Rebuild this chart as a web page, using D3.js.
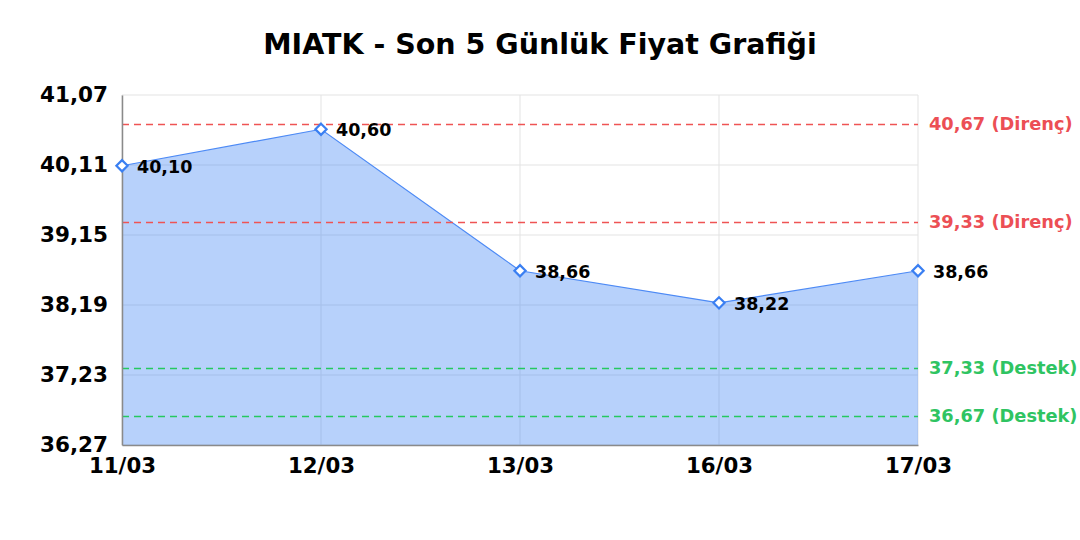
<!DOCTYPE html>
<html lang="tr">
<head>
    <meta charset="utf-8" />
    <script src="https://d3js.org/d3.v7.min.js"></script>
    <title>MIATK</title>
    <style>
        body { margin: 0; background: #fff; }
        * { font-family: 'DejaVu Sans', sans-serif; }
    </style>
</head>
<body>
    <div id="chart"></div>
    <script>
        // veriler
        var dates = ["11/03", "12/03", "13/03", "16/03", "17/03"];
        var prices = [40.10, 40.60, 38.66, 38.22, 38.66];
        var yTicks = [36.27, 37.23, 38.19, 39.15, 40.11, 41.07];
        var levelValues = [40.67, 39.33, 37.33, 36.67];
        var levelNames = ["Direnç", "Direnç", "Destek", "Destek"];

        var width = 1080, height = 540;
        var margin = { top: 95, right: 162, bottom: 95, left: 122 };

        var svg = d3.select("#chart")
            .append("svg")
            .attr("width", width)
            .attr("height", height);

        var x = d3.scalePoint()
            .domain(dates)
            .range([margin.left, width - margin.right]);

        var y = d3.scaleLinear()
            .domain([yTicks[0], yTicks[yTicks.length - 1]])
            .range([height - margin.bottom, margin.top]);

        var fmt = function (v) { return v.toFixed(2).replace(".", ","); };

        // grid
        svg.append("g")
            .selectAll("line.h")
            .data(yTicks)
            .enter()
            .append("line")
            .attr("x1", margin.left)
            .attr("x2", width - margin.right)
            .attr("y1", function (d) { return y(d); })
            .attr("y2", function (d) { return y(d); })
            .attr("stroke", "#e3e3e3")
            .attr("stroke-width", 1);

        svg.append("g")
            .selectAll("line.v")
            .data(dates)
            .enter()
            .append("line")
            .attr("x1", function (d) { return x(d); })
            .attr("x2", function (d) { return x(d); })
            .attr("y1", margin.top)
            .attr("y2", height - margin.bottom)
            .attr("stroke", "#e3e3e3")
            .attr("stroke-width", 1);

        // alan
        var area = d3.area()
            .x(function (d, i) { return x(dates[i]); })
            .y0(y(yTicks[0]))
            .y1(function (d) { return y(d); });

        svg.append("path")
            .datum(prices)
            .attr("d", area)
            .attr("fill", "rgba(66,133,244,0.38)");

        var line = d3.line()
            .x(function (d, i) { return x(dates[i]); })
            .y(function (d) { return y(d); });

        svg.append("path")
            .datum(prices)
            .attr("d", line)
            .attr("fill", "none")
            .attr("stroke", "#4d8af5")
            .attr("stroke-width", 1.2);

        // destek / direnç çizgileri
        var levels = svg.append("g")
            .selectAll("g")
            .data(levelValues)
            .enter()
            .append("g");

        levels.append("line")
            .attr("x1", margin.left)
            .attr("x2", width - margin.right)
            .attr("y1", function (d) { return Math.round(y(d)) + 0.5; })
            .attr("y2", function (d) { return Math.round(y(d)) + 0.5; })
            .attr("stroke", function (d, i) { return levelNames[i] === "Direnç" ? "#ef5454" : "#25c95f"; })
            .attr("stroke-width", 1.5)
            .attr("stroke-dasharray", "7,5");

        levels.append("text")
            .attr("x", width - margin.right + 11)
            .attr("y", function (d) { return y(d); })
            .attr("dy", "0.35em")
            .attr("font-size", "17.8px")
            .attr("font-weight", "bold")
            .attr("fill", function (d, i) { return levelNames[i] === "Direnç" ? "#ec4f55" : "#2fc462"; })
            .text(function (d, i) { return fmt(d) + " (" + levelNames[i] + ")"; });

        // eksenler
        var yAxis = d3.axisLeft(y)
            .tickValues(yTicks)
            .tickSize(0)
            .tickPadding(14)
            .tickFormat(fmt);

        var gy = svg.append("g")
            .attr("transform", "translate(" + margin.left + ",0)")
            .call(yAxis);
        gy.select(".domain").attr("stroke", "#8a8a8a").attr("stroke-width", 1.5);
        gy.selectAll("text")
            .attr("font-size", "21.5px")
            .attr("font-weight", "bold")
            .attr("fill", "#000")
            .style("font-family", "'DejaVu Sans', sans-serif");

        var xAxis = d3.axisBottom(x)
            .tickSize(0)
            .tickPadding(13);

        var gx = svg.append("g")
            .attr("transform", "translate(0," + (height - margin.bottom) + ")")
            .call(xAxis);
        gx.select(".domain").attr("stroke", "#8a8a8a").attr("stroke-width", 1.5);
        gx.selectAll("text")
            .attr("font-size", "21.3px")
            .attr("font-weight", "bold")
            .attr("fill", "#000")
            .style("font-family", "'DejaVu Sans', sans-serif");

        // noktalar
        svg.append("g")
            .selectAll("path")
            .data(prices)
            .enter()
            .append("path")
            .attr("d", d3.symbol().type(d3.symbolDiamond2).size(80))
            .attr("transform", function (d, i) { return "translate(" + x(dates[i]) + "," + y(d) + ")"; })
            .attr("fill", "#fff")
            .attr("stroke", "#3a7ff2")
            .attr("stroke-width", 2.2);

        svg.append("g")
            .selectAll("text")
            .data(prices)
            .enter()
            .append("text")
            .attr("x", function (d, i) { return x(dates[i]) + 15; })
            .attr("y", function (d) { return y(d); })
            .attr("dy", "0.4em")
            .attr("font-size", "17.5px")
            .attr("font-weight", "bold")
            .attr("fill", "#000")
            .text(function (d) { return fmt(d); });

        // başlık
        svg.append("text")
            .attr("x", width / 2)
            .attr("y", 54)
            .attr("text-anchor", "middle")
            .attr("font-size", "28.5px")
            .attr("font-weight", "bold")
            .attr("fill", "#000")
            .text("MIATK - Son 5 Günlük Fiyat Grafiği");
    </script>
</body>
</html>
